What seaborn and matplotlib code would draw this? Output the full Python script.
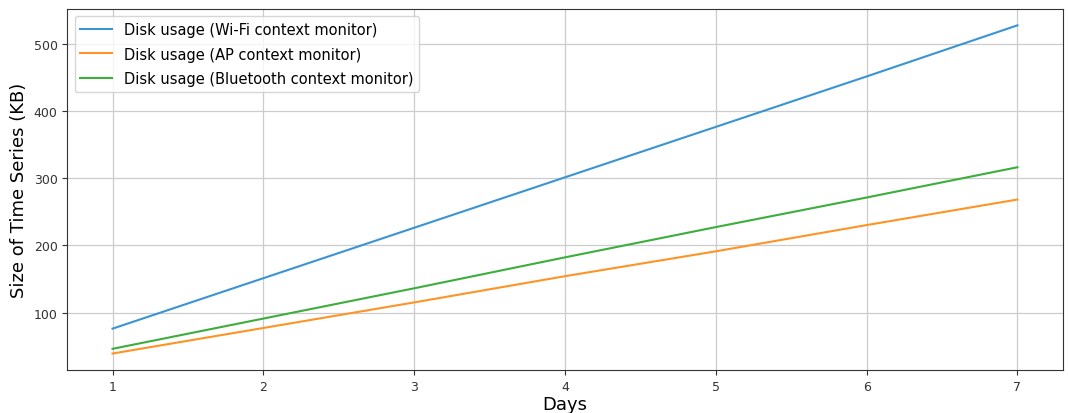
import pandas as pd
import matplotlib
matplotlib.use("Agg")
import matplotlib.pyplot as plt
import seaborn as sns

# values (KB per day)
days = [1, 2, 3, 4, 5, 6, 7]
wifi_kb = [76, 151, 226, 301, 376, 451, 527]
ap_kb = [39, 77, 115, 154, 191, 230, 268]
bt_kb = [46, 91, 136, 182, 227, 271, 316]

labels = ["Disk usage (Wi-Fi context monitor)",
          "Disk usage (AP context monitor)",
          "Disk usage (Bluetooth context monitor)"]
colors = ["#3a94d4", "#ff9426", "#3cae3c"]

df = pd.DataFrame({
    "Days": days * 3,
    "KB": wifi_kb + ap_kb + bt_kb,
    "Monitor": [labels[0]] * len(days) + [labels[1]] * len(days) + [labels[2]] * len(days),
})

fig, ax = plt.subplots(figsize=(10.68, 4.14), dpi=100)
sns.lineplot(data=df, x="Days", y="KB", hue="Monitor", palette=colors,
             linewidth=1.5, ax=ax)

ax.grid(True, color="#cccccc", linewidth=0.9)
ax.set_axisbelow(True)
ax.set_xlabel("Days", fontsize=13, labelpad=2)
ax.set_ylabel("Size of Time Series (KB)", fontsize=13, labelpad=4)
ax.tick_params(labelsize=9, colors="#333333")
for s in ax.spines.values():
    s.set_color("#333333")

leg = ax.legend(loc="upper left", fontsize=10.5, title=None,
                handlelength=2.2, labelspacing=0.65)

fig.subplots_adjust(left=0.063, right=0.995, top=0.976, bottom=0.104)
fig.savefig("out.png", dpi=100)
